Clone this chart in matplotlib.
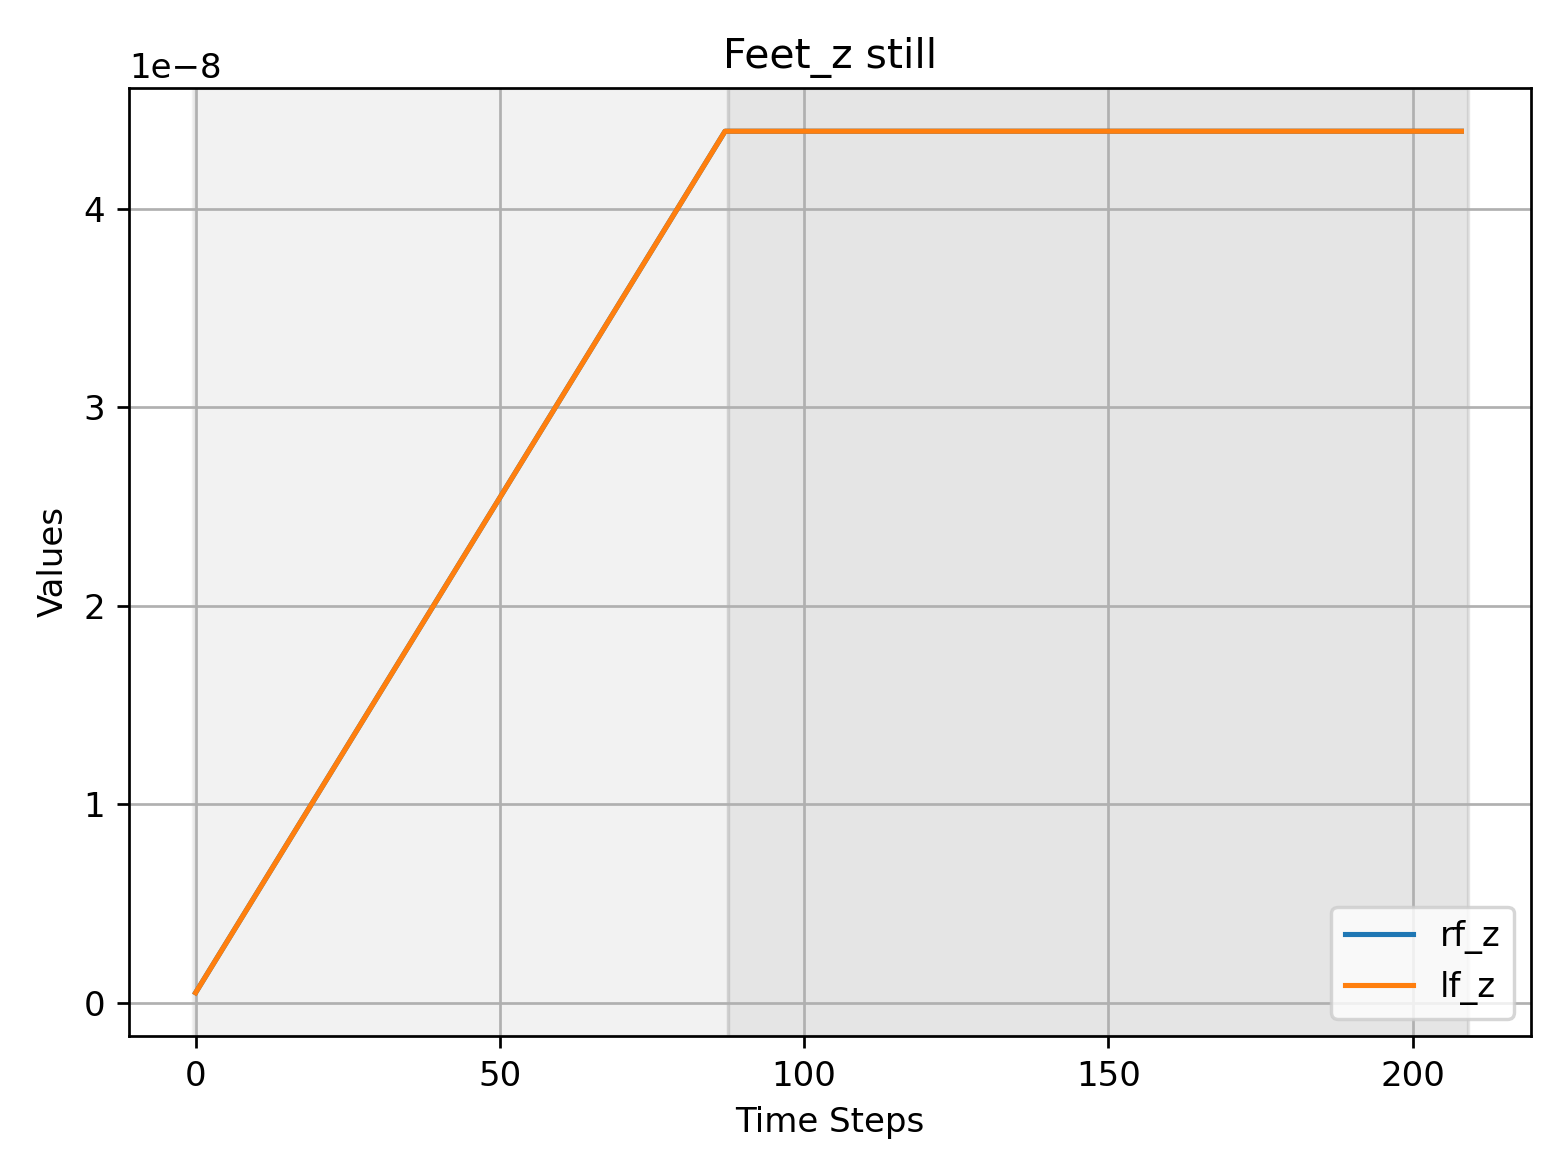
import matplotlib
matplotlib.use("Agg")
import matplotlib.pyplot as plt

t = [0, 87, 208]
rf_z = [0.05e-8, 4.39e-8, 4.39e-8]
lf_z = [0.05e-8, 4.39e-8, 4.39e-8]
phases = [(-0.5, 87.5, 0.1), (87.5, 209, 0.2)]

fig, ax = plt.subplots(figsize=(6.4, 4.8), dpi=245)
for a, b, al in phases:
    ax.axvspan(a, b, color='gray', alpha=al, lw=1)
ax.plot(t, rf_z, label='rf_z')
ax.plot(t, lf_z, label='lf_z')
ax.set_title('Feet_z still')
ax.set_xlabel('Time Steps')
ax.set_ylabel('Values')
ax.grid(True)
ax.legend(loc='lower right')
fig.tight_layout()
fig.savefig('out.png')
